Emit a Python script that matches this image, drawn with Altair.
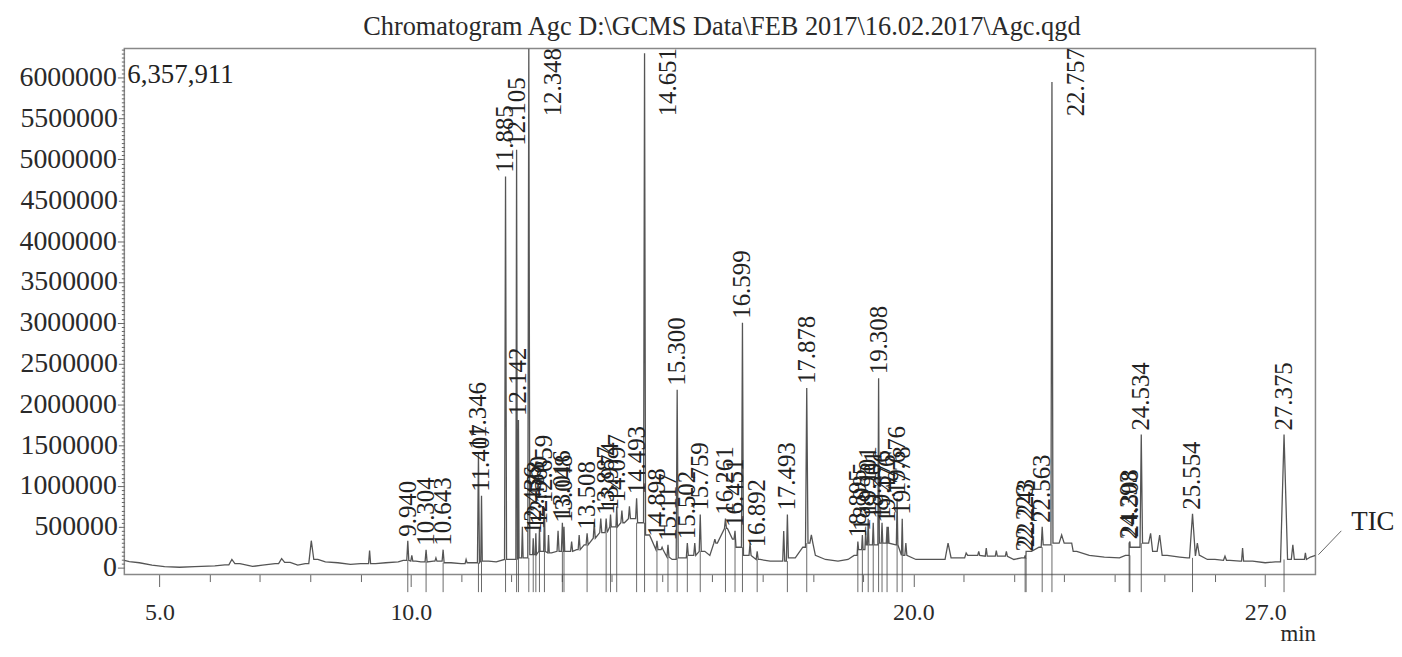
import altair as alt
import pandas as pd
import numpy as np

TITLE = "Chromatogram Agc D:\\GCMS Data\\FEB 2017\\16.02.2017\\Agc.qgd"
FONT = "Liberation Serif"

# ---- baseline of the TIC trace (minutes, intensity in millions) ----
baseline_t = [4.30, 4.40, 4.60, 4.85, 5.10, 5.40, 5.70, 6.10, 6.30, 6.60, 6.85, 7.05, 7.30, 7.60, 7.75,
              7.90, 8.15, 8.30, 8.55, 8.80, 9.00, 9.30, 9.50, 9.75, 9.85, 10.10, 10.20, 10.45, 10.80,
              11.00, 11.20, 11.55, 11.70, 12.00, 12.25, 12.45, 12.60, 12.80, 12.95, 13.15, 13.30, 13.45,
              13.65, 13.85, 14.05, 14.25, 14.40, 14.58, 14.75, 14.95, 15.10, 15.20, 15.40, 15.60, 15.85,
              15.95, 16.10, 16.30, 16.40, 16.52, 16.70, 16.95, 17.15, 17.35, 17.65, 17.80, 17.95, 18.05,
              18.25, 18.50, 18.70, 18.82, 18.95, 19.15, 19.45, 19.65, 19.85, 20.05, 20.40, 20.90, 21.20,
              21.50, 21.75, 22.00, 22.15, 22.35, 22.50, 22.65, 22.90, 23.05, 23.25, 23.50, 23.80, 24.10,
              24.22, 24.40, 24.62, 24.80, 25.05, 25.30, 25.45, 25.70, 25.85, 26.00, 26.30, 26.50, 26.75,
              27.00, 27.20, 27.50, 27.75, 27.90, 28.00]
baseline_v = [0.090, 0.075, 0.060, 0.030, 0.012, 0.005, 0.012, 0.022, 0.035, 0.050, 0.015, 0.030, 0.050,
              0.065, 0.030, 0.050, 0.100, 0.070, 0.060, 0.040, 0.050, 0.050, 0.060, 0.070, 0.090, 0.080,
              0.070, 0.080, 0.060, 0.050, 0.060, 0.080, 0.070, 0.100, 0.120, 0.160, 0.200, 0.180, 0.200,
              0.200, 0.220, 0.280, 0.360, 0.430, 0.500, 0.550, 0.600, 0.550, 0.400, 0.220, 0.130, 0.100,
              0.120, 0.150, 0.200, 0.150, 0.300, 0.480, 0.350, 0.250, 0.150, 0.100, 0.080, 0.080, 0.120,
              0.250, 0.300, 0.150, 0.100, 0.080, 0.100, 0.150, 0.220, 0.280, 0.300, 0.280, 0.150, 0.100,
              0.100, 0.120, 0.150, 0.140, 0.140, 0.100, 0.120, 0.200, 0.250, 0.280, 0.300, 0.300, 0.200,
              0.150, 0.130, 0.120, 0.150, 0.250, 0.300, 0.200, 0.150, 0.130, 0.120, 0.150, 0.100, 0.100,
              0.090, 0.080, 0.080, 0.060, 0.070, 0.100, 0.100, 0.130, 0.150]

# ---- labelled peaks: retention time, apex (millions), half width (min) ----
peak_rt = [9.940, 10.304, 10.643, 11.346, 11.407, 11.885, 12.105, 12.142, 12.348, 12.436, 12.488,
           12.560, 12.659, 13.016, 13.048, 13.508, 13.887, 13.974, 14.097, 14.493, 14.651, 14.898,
           15.117, 15.300, 15.502, 15.759, 16.261, 16.451, 16.599, 16.892, 17.493, 17.878, 18.895,
           18.985, 19.101, 19.201, 19.308, 19.376, 19.476, 19.676, 19.778, 22.223, 22.243, 22.563,
           22.757, 24.293, 24.308, 24.534, 25.554, 27.375]
peak_height = [0.33, 0.22, 0.22, 1.40, 0.88, 4.79, 5.12, 1.81, 6.357911, 0.36, 0.42,
               0.48, 0.74, 0.55, 0.50, 0.42, 0.60, 0.65, 0.75, 0.85, 6.30, 0.33,
               0.28, 2.18, 0.30, 0.65, 0.60, 0.45, 3.00, 0.20, 0.65, 2.20, 0.32,
               0.40, 0.60, 0.55, 2.32, 0.55, 0.50, 0.85, 0.60, 0.15, 0.20, 0.50,
               5.95, 0.30, 0.32, 1.63, 0.66, 1.63]
peak_hw = [0.02, 0.02, 0.02, 0.02, 0.015, 0.02, 0.015, 0.012, 0.02, 0.012, 0.012,
           0.012, 0.015, 0.02, 0.015, 0.02, 0.02, 0.015, 0.015, 0.02, 0.02, 0.02,
           0.02, 0.02, 0.02, 0.02, 0.02, 0.02, 0.02, 0.02, 0.02, 0.025, 0.015,
           0.015, 0.015, 0.015, 0.015, 0.015, 0.015, 0.015, 0.015, 0.015, 0.015, 0.02,
           0.02, 0.02, 0.015, 0.025, 0.06, 0.07]

# ---- small unlabelled peaks ----
bump_rt = [6.44, 7.43, 8.02, 9.18, 10.02, 10.50, 11.10, 12.22, 12.74, 12.93, 13.20, 13.35, 13.65,
           13.78, 14.20, 14.35, 15.00, 15.65, 16.05, 16.75, 17.42, 17.97, 19.05, 19.50, 19.85,
           20.69, 21.05, 21.30, 21.45, 21.65, 21.85, 22.95, 23.15, 24.72, 24.90, 25.65, 26.20,
           26.55, 27.55, 27.80]
bump_height = [0.10, 0.11, 0.33, 0.21, 0.15, 0.12, 0.10, 0.50, 0.40, 0.45, 0.32, 0.40, 0.55,
               0.60, 0.70, 0.75, 0.25, 0.30, 0.35, 0.30, 0.45, 0.40, 0.45, 0.50, 0.30,
               0.30, 0.18, 0.20, 0.24, 0.21, 0.20, 0.40, 0.30, 0.42, 0.40, 0.30, 0.14,
               0.24, 0.28, 0.18]
bump_hw = [0.06, 0.06, 0.05, 0.02, 0.02, 0.02, 0.02, 0.015, 0.015, 0.02, 0.02, 0.02, 0.02,
           0.02, 0.02, 0.02, 0.02, 0.02, 0.02, 0.02, 0.02, 0.03, 0.015, 0.015, 0.02,
           0.06, 0.03, 0.02, 0.02, 0.02, 0.02, 0.05, 0.03, 0.04, 0.05, 0.04, 0.03,
           0.02, 0.03, 0.02]

x_ticks = list(range(5, 28))
x_labelled = [5, 10, 20, 27]
y_ticks = list(range(0, 6350001, 50000))
Y_MIN, Y_MAX = -85000, 6357911
X_MIN, X_MAX = 4.3, 28.0
W, H = 1198, 529

M = 1_000_000
bt = np.array(baseline_t)
bv = np.array(baseline_v) * M


def foot(t):
    return float(bv[np.argmin(np.abs(bt - t))])


windows = [(r - w, r + w) for r, w in zip(peak_rt + bump_rt, peak_hw + bump_hw)]
pts = [(t, v) for t, v in zip(bt, bv) if not any(a <= t <= b for a, b in windows)]
for r, h, w in zip(peak_rt + bump_rt, [p * M for p in peak_height + bump_height], peak_hw + bump_hw):
    pts += [(r - w, foot(r - w)), (r, h), (r + w, foot(r + w))]
pts.sort()
trace = pd.DataFrame(pts, columns=["t", "v"])

peaks = pd.DataFrame({"t": peak_rt, "h": [p * M for p in peak_height]})
peaks["label"] = [f"{r:.3f}" for r in peak_rt]
peaks["base"] = [foot(r) for r in peak_rt]
peaks["low"] = -300000
peaks["tall"] = peaks["h"] > 5.5 * M
peaks["anchor"] = np.where(peaks["tall"], Y_MAX - 830000, peaks["h"])

xs = alt.Scale(domain=[X_MIN, X_MAX], nice=False, zero=False)
ys = alt.Scale(domain=[Y_MIN, Y_MAX], nice=False, zero=False)

lab_test = "indexof([" + ",".join(str(v) for v in x_labelled) + "], datum.value) >= 0"
x_axis = alt.Axis(
    values=x_ticks, tickCount=len(x_ticks), grid=False, domain=False,
    labelExpr=lab_test + " ? format(datum.value, '.1f') : ''",
    labelOverlap=False, labelFlush=False, labelFontSize=24, labelPadding=14,
    tickSize={"condition": {"test": lab_test, "value": 12}, "value": 7},
    title="min", titleFontSize=23, titleFont=FONT, titleFontWeight="normal", titleColor="#2a2a2a",
    titleAnchor="end", titleAlign="right", titleBaseline="alphabetic", titleX=W, titleY=66,
)
y_axis = alt.Axis(
    values=y_ticks, tickCount=len(y_ticks), grid=False, domain=False, title=None,
    labelExpr="datum.value % 500000 === 0 ? format(datum.value, 'd') : ''",
    labelOverlap=False, labelFontSize=28, labelPadding=1,
    tickSize={"condition": [{"test": "datum.value % 1000000 === 0", "value": 7},
                            {"test": "datum.value % 500000 === 0", "value": 6}], "value": 3},
)

line = alt.Chart(trace).mark_line(color="#555555", strokeWidth=1.3, clip=True).encode(
    x=alt.X("t:Q", scale=xs, axis=x_axis),
    y=alt.Y("v:Q", scale=ys, axis=y_axis),
)

marks = alt.Chart(peaks).mark_rule(color="#444444", strokeWidth=1, opacity=0.8).encode(
    x="t:Q", y="low:Q", y2="base:Q"
)

lab_norm = alt.Chart(peaks[~peaks["tall"]]).mark_text(
    angle=270, align="left", baseline="middle", dx=4, font=FONT, fontSize=25, color="#222222"
).encode(x="t:Q", y="anchor:Q", text="label:N")

lab_tall = alt.Chart(peaks[peaks["tall"]]).mark_text(
    angle=270, align="left", baseline="middle", dy=24, font=FONT, fontSize=25, color="#222222"
).encode(x="t:Q", y="anchor:Q", text="label:N")

max_txt = alt.Chart(pd.DataFrame({"txt": [f"{int(round(max(peak_height) * M)):,}"]})).mark_text(
    align="left", baseline="middle", font=FONT, fontSize=27, color="#222222"
).encode(x=alt.value(3), y=alt.value(27), text="txt:N")

title_txt = alt.Chart(pd.DataFrame({"txt": [TITLE]})).mark_text(
    align="center", baseline="alphabetic", font=FONT, fontSize=26.5, color="#2a2a2a"
).encode(x=alt.value(W / 2 + 2), y=alt.value(-14), text="txt:N")

tic_txt = alt.Chart(pd.DataFrame({"txt": ["TIC"]})).mark_text(
    align="left", baseline="middle", font=FONT, fontSize=27, color="#222222"
).encode(x=alt.value(1234), y=alt.value(476), text="txt:N")

tic_line = alt.Chart(pd.DataFrame({"a": [0]})).mark_rule(color="#666666", strokeWidth=1).encode(
    x=alt.value(1201), x2=alt.value(1224), y=alt.value(509), y2=alt.value(485)
)

chart = alt.layer(line, marks, lab_norm, lab_tall, max_txt, title_txt, tic_txt, tic_line).properties(
    width=W, height=H,
    autosize="none",
    padding={"left": 117, "top": 39, "right": 79, "bottom": 73},
).configure_view(stroke="#888888", strokeWidth=1.5).configure_axis(
    labelFont=FONT, labelColor="#2a2a2a", tickColor="#666666", tickWidth=1
)

chart.save("out.html", embed_options={"renderer": "svg", "actions": False})
